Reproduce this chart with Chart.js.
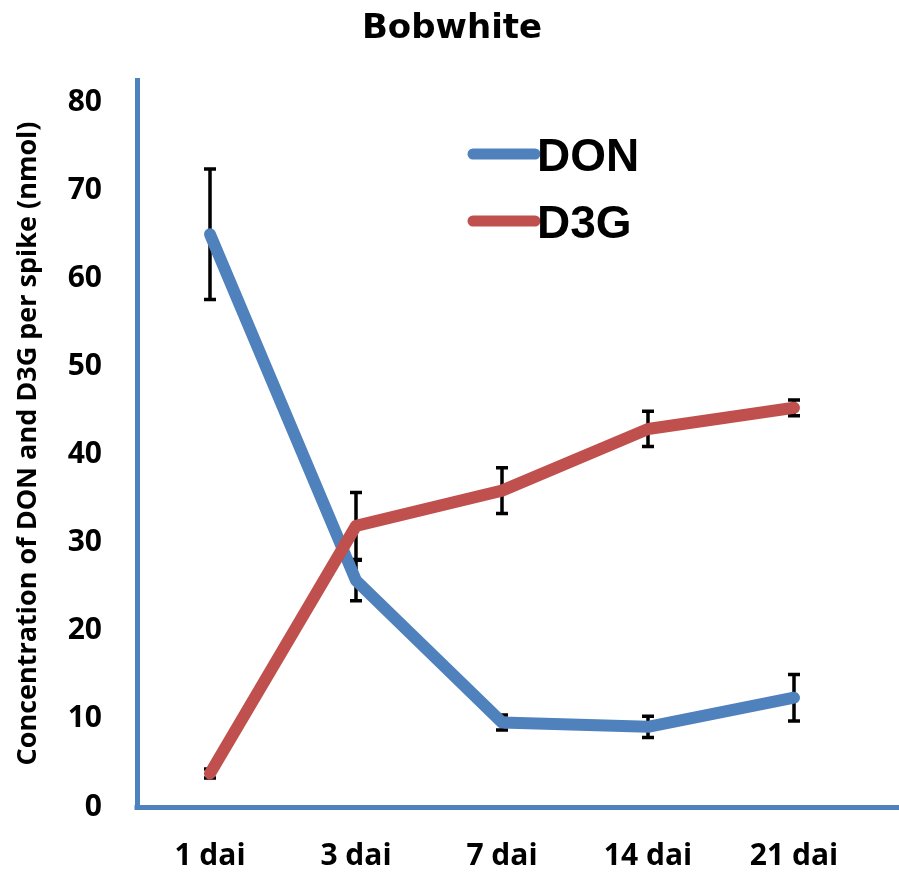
<!DOCTYPE html>
<html>
<head>
<meta charset="utf-8">
<script src="https://cdn.jsdelivr.net/npm/chart.js@4"></script>
<style>
  html, body { margin: 0; padding: 0; background: #ffffff; }
  #wrap { width: 899px; height: 872px; }
</style>
</head>
<body>
<div id="wrap"><canvas id="c" width="899" height="872"></canvas></div>
<script>
// Sampling days after inoculation
const categories = ['1 dai', '3 dai', '7 dai', '14 dai', '21 dai'];

// DON (nmol per spike), mean and error
const donMean = [65.0, 25.7, 9.6, 9.1, 12.4];
const donErr  = [7.4, 2.3, 0.85, 1.2, 2.65];

// D3G (nmol per spike), mean and error
const d3gMean = [3.8, 31.9, 35.9, 42.9, 45.3];
const d3gErr  = [0.5, 3.8, 2.6, 2.0, 0.9];

// Value axis ticks
const yTicks = [0, 10, 20, 30, 40, 50, 60, 70, 80];

const chartTitle = 'Bobwhite';

const AXIS_BLUE = '#4F81BD';
const DON_BLUE = '#4F81BD';
const D3G_RED = '#C0504D';

// Vertical error bars with caps, painted under the lines
const errorBars = {
  id: 'errorBars',
  beforeDatasetsDraw(chart) {
    const ctx = chart.ctx;
    const y = chart.scales.y;
    chart.data.datasets.forEach((ds, i) => {
      const meta = chart.getDatasetMeta(i);
      ctx.save();
      ctx.strokeStyle = '#000000';
      ctx.lineWidth = 3.5;
      ctx.lineCap = 'butt';
      meta.data.forEach((pt, j) => {
        const v = ds.data[j], e = ds.errors[j];
        const top = y.getPixelForValue(v + e);
        const bot = y.getPixelForValue(v - e);
        const x = pt.x;
        ctx.beginPath();
        ctx.moveTo(x, top); ctx.lineTo(x, bot);
        ctx.moveTo(x - 6, top); ctx.lineTo(x + 6, top);
        ctx.moveTo(x - 6, bot); ctx.lineTo(x + 6, bot);
        ctx.stroke();
      });
      ctx.restore();
    });
  }
};

// Title, category axis line (runs to the right edge) and the legend inside the plot
const decorations = {
  id: 'decorations',
  beforeDatasetsDraw(chart) {
    const ctx = chart.ctx;
    const area = chart.chartArea;
    const y0 = Math.round(chart.scales.y.getPixelForValue(0)) + 0.5;
    ctx.save();
    ctx.strokeStyle = AXIS_BLUE;
    ctx.lineWidth = 5;
    ctx.lineCap = 'butt';
    ctx.beginPath();
    ctx.moveTo(area.left - 2.5, y0);
    ctx.lineTo(chart.width, y0);
    ctx.stroke();
    ctx.restore();
  },
  afterDraw(chart) {
    const ctx = chart.ctx;
    const area = chart.chartArea;
    ctx.save();
    ctx.fillStyle = '#000000';
    ctx.font = 'bold 34px "DejaVu Sans", sans-serif';
    ctx.textAlign = 'center';
    ctx.textBaseline = 'alphabetic';
    ctx.fillText(chartTitle, 452, 38);

    const x0 = area.left + 336, x1 = area.left + 398;
    const rows = [area.top + 74, area.top + 141];
    ctx.font = 'bold 46px "Liberation Sans", Arial, sans-serif';
    ctx.textAlign = 'left';
    chart.data.datasets.forEach((ds, k) => {
      const yy = rows[k];
      ctx.strokeStyle = ds.borderColor;
      ctx.lineWidth = 11;
      ctx.lineCap = 'round';
      ctx.beginPath();
      ctx.moveTo(x0, yy);
      ctx.lineTo(x1, yy);
      ctx.stroke();
      ctx.fillStyle = '#000000';
      ctx.fillText(ds.label, x1 + 2, yy + 17);
    });
    ctx.restore();
  }
};

new Chart(document.getElementById('c'), {
  type: 'line',
  data: {
    labels: categories,
    datasets: [
      {
        label: 'DON',
        data: donMean,
        errors: donErr,
        borderColor: DON_BLUE,
        backgroundColor: DON_BLUE,
        borderWidth: 12,
        pointRadius: 0,
        tension: 0,
        borderCapStyle: 'round',
        borderJoinStyle: 'round',
        order: 2
      },
      {
        label: 'D3G',
        data: d3gMean,
        errors: d3gErr,
        borderColor: D3G_RED,
        backgroundColor: D3G_RED,
        borderWidth: 12,
        pointRadius: 0,
        tension: 0,
        borderCapStyle: 'round',
        borderJoinStyle: 'round',
        order: 1
      }
    ]
  },
  options: {
    responsive: false,
    animation: false,
    devicePixelRatio: 1,
    layout: { padding: { left: 0, right: 32, top: 80, bottom: 0 } },
    plugins: {
      legend: { display: false },
      tooltip: { enabled: false },
      title: { display: false }
    },
    scales: {
      x: {
        offset: true,
        grid: { display: false, drawTicks: false },
        border: { display: false },
        ticks: {
          color: '#000000',
          padding: 31,
          font: { family: '"Open Sans", sans-serif', size: 30, weight: 'bold' }
        },
        afterFit(scale) { scale.height = 65; }
      },
      y: {
        min: 0,
        max: 82.5,
        grid: { display: false, drawTicks: false },
        border: { display: true, color: AXIS_BLUE, width: 5 },
        afterBuildTicks(scale) { scale.ticks = yTicks.map(v => ({ value: v })); },
        ticks: {
          color: '#000000',
          padding: 35,
          font: { family: '"Open Sans", sans-serif', size: 30, weight: 'bold' }
        },
        title: {
          display: true,
          text: 'Concentration of DON and D3G per spike (nmol)',
          color: '#000000',
          font: { family: '"Open Sans", sans-serif', size: 27, weight: 'bold' },
          padding: { top: 12, bottom: 0 }
        },
        afterFit(scale) { scale.width = 137; }
      }
    }
  },
  plugins: [errorBars, decorations]
});
</script>
</body>
</html>
